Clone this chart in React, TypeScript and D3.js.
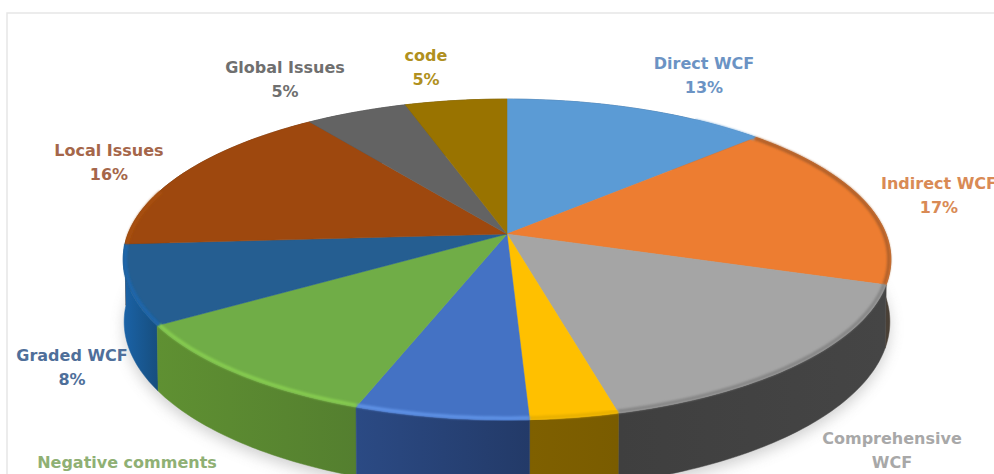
import React from "react";
import * as d3 from "d3";

// Feedback categories and their shares of the pie (percent).
const categories = [
  "Direct WCF",
  "Indirect WCF",
  "Comprehensive WCF",
  "Focused WCF",
  "Positive comments",
  "Negative comments",
  "Graded WCF",
  "Local Issues",
  "Global Issues",
  "code",
];
const shares = [13, 17, 16, 3.2, 6.3, 10.5, 8, 16, 5, 5];

// Face, wall (two gradient stops), rim and label colours per slice.
const faceColors = ["#5b9bd5", "#ed7d31", "#a5a5a5", "#ffc000", "#4472c4", "#70ad47", "#255e91", "#9e480e", "#636363", "#997300"];
const wallStart = ["#37608a", "#4a4036", "#3f3f3f", "#7f6000", "#2b4a84", "#5f9032", "#1a62a6", "#5f2c08", "#3b3b3b", "#5c4500"];
const wallEnd = ["#37608a", "#4a4036", "#454545", "#7a5c00", "#233a68", "#547f2f", "#174e7e", "#5f2c08", "#3b3b3b", "#5c4500"];
const rimColors = ["#5b9bd5", "#b0602a", "#868686", "#e8b000", "#5f92e6", "#86cc50", "#1f66ac", "#a85010", "#636363", "#997300"];
const labelColors = ["#6b93c4", "#d98a55", "#a8a8a8", "#bf9500", "#5170a8", "#8fb074", "#4f6f9a", "#a5664a", "#6f6f6f", "#b09020"];

// Printed labels; a slice whose label falls outside the frame has no entry.
type Label = { slice: number; lines: string[]; x: number; y: number };
const labels: Label[] = [
  { slice: 0, lines: ["Direct WCF", "13%"], x: 704, y: 69 },
  { slice: 1, lines: ["Indirect WCF", "17%"], x: 939, y: 189 },
  { slice: 2, lines: ["Comprehensive", "WCF"], x: 892, y: 444 },
  { slice: 5, lines: ["Negative comments"], x: 127, y: 468 },
  { slice: 6, lines: ["Graded WCF", "8%"], x: 72, y: 361 },
  { slice: 7, lines: ["Local Issues", "16%"], x: 109, y: 156 },
  { slice: 8, lines: ["Global Issues", "5%"], x: 285, y: 73 },
  { slice: 9, lines: ["code", "5%"], x: 426, y: 61 },
];

const WIDTH = 994;
const HEIGHT = 474;

// Perspective disc: the unit circle is tilted towards the viewer, so the hub
// sits above the centre of the drawn ellipse.
const TILT = 0.159;
type Disc = { hubX: number; hubY: number; radiusX: number; radiusY: number };
const topDisc: Disc = { hubX: 507, hubY: 234, radiusX: 379, radiusY: 156.4 };
const baseDisc: Disc = { hubX: 507, hubY: 295, radiusX: 378, radiusY: 164 };

const project = (d: Disc, angle: number): [number, number] => {
  const x = Math.sin(angle);
  const y = -Math.cos(angle);
  const w = 1 - TILT * y;
  return [d.hubX + (d.radiusX * x) / w, d.hubY + (d.radiusY * y) / w];
};

const arcPoints = (d: Disc, a0: number, a1: number): [number, number][] => {
  const n = Math.max(4, Math.ceil(Math.abs(a1 - a0) / 0.02));
  return d3.range(n + 1).map((i) => project(d, a0 + ((a1 - a0) * i) / n));
};

const linePath = d3.line<[number, number]>();
const closed = (pts: [number, number][]) => (linePath(pts) ?? "") + "Z";

const arcs = d3
  .pie<number>()
  .sort(null)
  .startAngle(0)
  .endAngle(2 * Math.PI)(shares);

// Painter's order for the walls: back slices first, front-most last.
const frontOrder = d3
  .range(arcs.length)
  .sort(
    (p, q) =>
      Math.cos((arcs[q].startAngle + arcs[q].endAngle) / 2) -
      Math.cos((arcs[p].startAngle + arcs[p].endAngle) / 2),
  );

const edgeX = (i: number): [number, number] => {
  const xs = arcPoints(baseDisc, arcs[i].startAngle, arcs[i].endAngle).map((p) => p[0]);
  return [d3.min(xs) ?? 0, d3.max(xs) ?? 0];
};

export default function App() {
  const font = "'DejaVu Sans', sans-serif";
  const shadow = arcPoints(baseDisc, 0, 2 * Math.PI);
  return (
    <svg
      width={WIDTH}
      height={HEIGHT}
      viewBox={`0 0 ${WIDTH} ${HEIGHT}`}
      style={{ position: "absolute", left: 0, top: 0, background: "#fff" }}
      aria-label={categories.join(", ")}
    >
      <defs>
        <filter id="soft-shadow" x="-10%" y="-10%" width="120%" height="120%">
          <feGaussianBlur stdDeviation="7" />
        </filter>
        <filter id="rim-blur" x="-5%" y="-20%" width="110%" height="140%">
          <feGaussianBlur stdDeviation="1.3" />
        </filter>
        {arcs.map((_, i) => {
          const [x0, x1] = edgeX(i);
          return (
            <linearGradient key={i} id={`wall-${i}`} gradientUnits="userSpaceOnUse" x1={x0} x2={x1} y1={0} y2={0}>
              <stop offset="0" stopColor={wallStart[i]} />
              <stop offset="1" stopColor={wallEnd[i]} />
            </linearGradient>
          );
        })}
      </defs>

      {/* chart frame */}
      <rect x={7} y={13} width={WIDTH} height={HEIGHT} fill="#fff" stroke="#e6e6e6" strokeWidth={1.5} />

      {/* drop shadow under the disc */}
      <path d={closed(shadow)} transform="translate(0,6)" fill="#9a9a9a" opacity={0.45} filter="url(#soft-shadow)" />

      {/* outer walls */}
      {frontOrder.map((i) => {
        const a = arcs[i];
        const pts = [
          ...arcPoints(topDisc, a.startAngle, a.endAngle),
          ...arcPoints(baseDisc, a.endAngle, a.startAngle),
        ];
        return <path key={i} d={closed(pts)} fill={`url(#wall-${i})`} stroke={`url(#wall-${i})`} strokeWidth={0.5} />;
      })}

      {/* top faces */}
      {arcs.map((a, i) => {
        const pts: [number, number][] = [
          [topDisc.hubX, topDisc.hubY],
          ...arcPoints(topDisc, a.startAngle, a.endAngle),
        ];
        return <path key={i} d={closed(pts)} fill={faceColors[i]} stroke={faceColors[i]} strokeWidth={0.5} />;
      })}

      {/* bevelled rim along the near edge */}
      {arcs.map((a, i) => {
        const from = Math.max(a.startAngle, 0.6);
        const to = Math.min(a.endAngle, 5.0);
        if (to <= from) return null;
        const offsetDisc: Disc = { ...topDisc, radiusX: topDisc.radiusX - 2, radiusY: topDisc.radiusY - 1.5 };
        return (
          <path
            key={i}
            d={linePath(arcPoints(offsetDisc, from, to)) ?? ""}
            fill="none"
            stroke={rimColors[i]}
            strokeWidth={3.5}
            filter="url(#rim-blur)"
          />
        );
      })}

      {/* data labels */}
      {labels.map((l) => (
        <text
          key={l.slice}
          textAnchor="middle"
          fontFamily={font}
          fontSize={16}
          fontWeight={700}
          fill={labelColors[l.slice]}
        >
          {l.lines.map((t, j) => (
            <tspan key={j} x={l.x} y={l.y + j * 23.5}>
              {t}
            </tspan>
          ))}
        </text>
      ))}
    </svg>
  );
}
